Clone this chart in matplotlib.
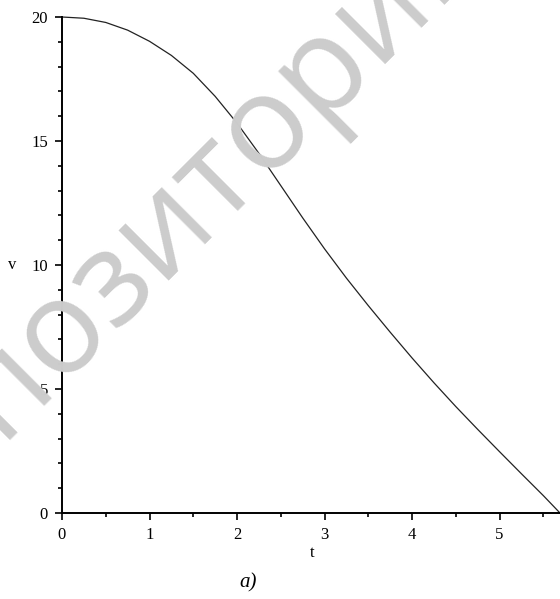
import matplotlib
matplotlib.use("Agg")
import matplotlib.pyplot as plt
from matplotlib.ticker import MultipleLocator

# velocity v(t) sampled along the curve
t = [0.0, 0.25, 0.5, 0.75, 1.0, 1.25, 1.5, 1.75, 2.0, 2.25, 2.5, 2.75,
     3.0, 3.25, 3.5, 3.75, 4.0, 4.25, 4.5, 4.75, 5.0, 5.25, 5.5, 5.69]
v = [20.0, 19.95, 19.78, 19.47, 19.02, 18.45, 17.73, 16.8, 15.72, 14.5,
     13.2, 11.9, 10.65, 9.47, 8.36, 7.29, 6.25, 5.25, 4.29, 3.37, 2.47,
     1.58, 0.7, 0.0]

x_ticks = [0, 1, 2, 3, 4, 5]
y_ticks = [0, 5, 10, 15, 20]

plt.rcParams["font.family"] = ["Liberation Serif", "DejaVu Serif"]

fig = plt.figure(figsize=(5.6, 5.99), dpi=100)
ax = fig.add_axes([62 / 560, 86 / 599, 498 / 560, 496 / 599])

# faint diagonal watermark behind the plot
fig.text(168 / 560, 1 - 222 / 599, "репозиторий", rotation=45,
         ha="center", va="center", fontsize=95, color="#cccccc",
         family=["Open Sans", "DejaVu Sans"], zorder=0)
ax.set_facecolor("none")

ax.plot(t, v, color="#222222", linewidth=0.9, clip_on=False)

ax.set_xlim(0, 5.69)
ax.set_ylim(0, 20)
ax.set_xticks(x_ticks)
ax.set_yticks(y_ticks)
ax.xaxis.set_minor_locator(MultipleLocator(0.5))
ax.yaxis.set_minor_locator(MultipleLocator(1))

for side in ("top", "right"):
    ax.spines[side].set_visible(False)
for side in ("left", "bottom"):
    ax.spines[side].set_linewidth(1.4)

ax.tick_params(which="major", direction="out", length=5, width=1.2,
               labelsize=12, pad=5)
ax.tick_params(which="minor", direction="out", length=3, width=1.2)

fig.text(12 / 560, 1 - 265 / 599, "v", ha="center", va="center", fontsize=12)
fig.text(312 / 560, 1 - 553 / 599, "t", ha="center", va="center", fontsize=12)
fig.text(248 / 560, 1 - 583 / 599, "a)", ha="center", va="center",
         fontsize=15, style="italic")

fig.savefig("out.png", dpi=100)
